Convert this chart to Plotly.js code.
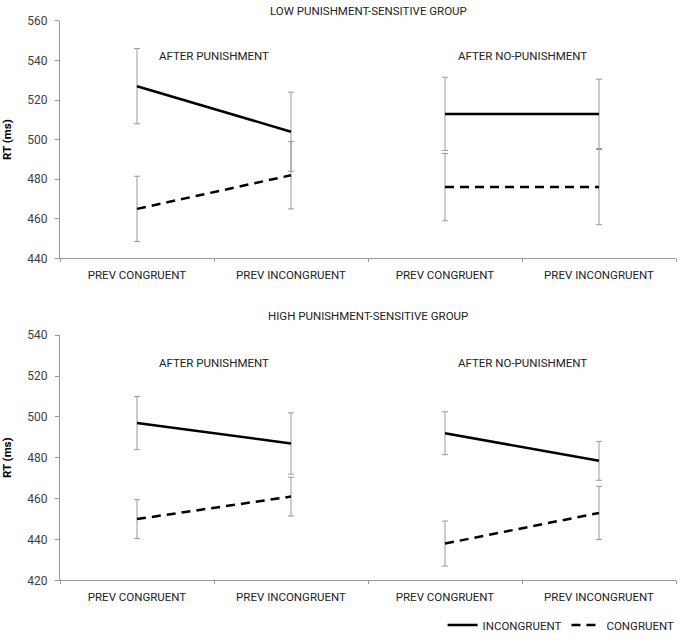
<!DOCTYPE html>
<html><head><meta charset="utf-8">
<script src="https://cdn.plot.ly/plotly-3.0.1.min.js"></script>
<style>html,body{margin:0;padding:0;background:#fff}</style>
</head><body>
<div id="chart" style="width:683px;height:640px"></div>
<script>
const categories = ['PREV CONGRUENT', 'PREV INCONGRUENT', 'PREV CONGRUENT', 'PREV INCONGRUENT'];
const conditions = ['AFTER PUNISHMENT', 'AFTER NO-PUNISHMENT'];
const groups = ['LOW PUNISHMENT-SENSITIVE GROUP', 'HIGH PUNISHMENT-SENSITIVE GROUP'];
const seriesNames = ['INCONGRUENT', 'CONGRUENT'];
const yTicksLow = [440, 460, 480, 500, 520, 540, 560];
const yTicksHigh = [420, 440, 460, 480, 500, 520, 540];

const lowIncongruent = [527, 504, 513, 513];
const lowIncongruentErr = [19, 20, 18.5, 17.5];
const lowCongruent = [465, 482, 476, 476];
const lowCongruentErr = [16.5, 17, 17, 19];

const highIncongruent = [497, 487, 492, 478.5];
const highIncongruentErr = [13, 15, 10.5, 9.5];
const highCongruent = [450, 461, 438, 453];
const highCongruentErr = [9.5, 9.5, 11, 13];

const FONT = 'Roboto, "Liberation Sans", sans-serif';
const positions = categories.map((_, i) => i + 1);
const boundaries = [0.5].concat(positions.map(p => p + 0.5));

const panels = [
  { series: [[lowIncongruent, lowIncongruentErr], [lowCongruent, lowCongruentErr]], xa: 'x', ya: 'y' },
  { series: [[highIncongruent, highIncongruentErr], [highCongruent, highCongruentErr]], xa: 'x2', ya: 'y2' }
];
const dashes = ['solid', '9px,6px'];

const traces = [];
panels.forEach((panel, p) => {
  panel.series.forEach(([vals, errs], s) => {
    conditions.forEach((cond, c) => {
      const i0 = 2 * c;
      traces.push({
        type: 'scatter', mode: 'lines',
        name: seriesNames[s],
        legendgroup: seriesNames[s],
        showlegend: p === 0 && c === 0,
        x: positions.slice(i0, i0 + 2),
        y: vals.slice(i0, i0 + 2),
        xaxis: panel.xa, yaxis: panel.ya,
        line: { color: '#000', width: 2.5, dash: dashes[s] },
        error_y: { type: 'data', array: errs.slice(i0, i0 + 2), visible: true,
                   color: '#999', thickness: 1, width: 3 },
        hoverinfo: 'x+y'
      });
    });
  });
});

function xAxis(anchor, domain) {
  return {
    domain: domain, anchor: anchor, range: [0.5, 4.5],
    tickmode: 'array', tickvals: positions, ticktext: categories,
    ticks: '', showline: true, linecolor: '#999', linewidth: 1,
    showgrid: false, zeroline: false, fixedrange: true,
    tickfont: { family: FONT, size: 11.5, color: '#222' },
    ticklabelstandoff: 6,
    minor: { tickmode: 'array', tickvals: boundaries, ticks: 'outside', ticklen: 3,
             tickcolor: '#999', tickwidth: 1, showgrid: false }
  };
}
function yAxis(anchor, domain, ticks) {
  return {
    domain: domain, anchor: anchor,
    range: [ticks[0], ticks[ticks.length - 1]],
    tickmode: 'array', tickvals: ticks,
    ticks: 'outside', ticklen: 4, tickcolor: '#999',
    showline: true, linecolor: '#999', linewidth: 1,
    showgrid: false, zeroline: false, fixedrange: true,
    tickfont: { family: FONT, size: 12, color: '#404040' },
    ticklabelstandoff: 5,
    title: { text: 'RT (ms)', font: { family: FONT, size: 11.5, color: '#000', weight: 'bold' }, standoff: 14 }
  };
}

const xDom = [60 / 683, 676 / 683];
const topDom = [1 - 260 / 640, 1 - 21 / 640];
const botDom = [1 - 584 / 640, 1 - 337.3 / 640];

const annotations = [];
groups.forEach((g, p) => {
  annotations.push({
    text: g, xref: 'paper', yref: 'paper',
    x: (xDom[0] + xDom[1]) / 2, y: p === 0 ? 1 - 11.5 / 640 : 1 - 318 / 640,
    xanchor: 'center', yanchor: 'middle', showarrow: false,
    font: { family: FONT, size: 11.5, color: '#222' }
  });
  conditions.forEach((cond, c) => {
    annotations.push({
      text: cond, xref: p === 0 ? 'x' : 'x2', yref: 'paper',
      x: (positions[2 * c] + positions[2 * c + 1]) / 2,
      y: p === 0 ? 1 - 56.5 / 640 : 1 - 365 / 640,
      xanchor: 'center', yanchor: 'middle', showarrow: false,
      font: { family: FONT, size: 11.5, color: '#222' }
    });
  });
});

const layout = {
  width: 683, height: 640,
  margin: { l: 0, r: 0, t: 0, b: 0 },
  paper_bgcolor: '#fff', plot_bgcolor: '#fff',
  font: { family: FONT, size: 11.5, color: '#222' },
  showlegend: true,
  legend: { orientation: 'h', x: 0.995, xanchor: 'right', y: 1 - 629 / 640, yanchor: 'middle',
            font: { family: FONT, size: 11.5, color: '#222' }, bgcolor: 'rgba(0,0,0,0)' },
  xaxis: xAxis('y', xDom), yaxis: yAxis('x', topDom, yTicksLow),
  xaxis2: xAxis('y2', xDom), yaxis2: yAxis('x2', botDom, yTicksHigh),
  annotations: annotations
};

Plotly.newPlot('chart', traces, layout, { displayModeBar: false, staticPlot: true });
</script>
</body></html>
